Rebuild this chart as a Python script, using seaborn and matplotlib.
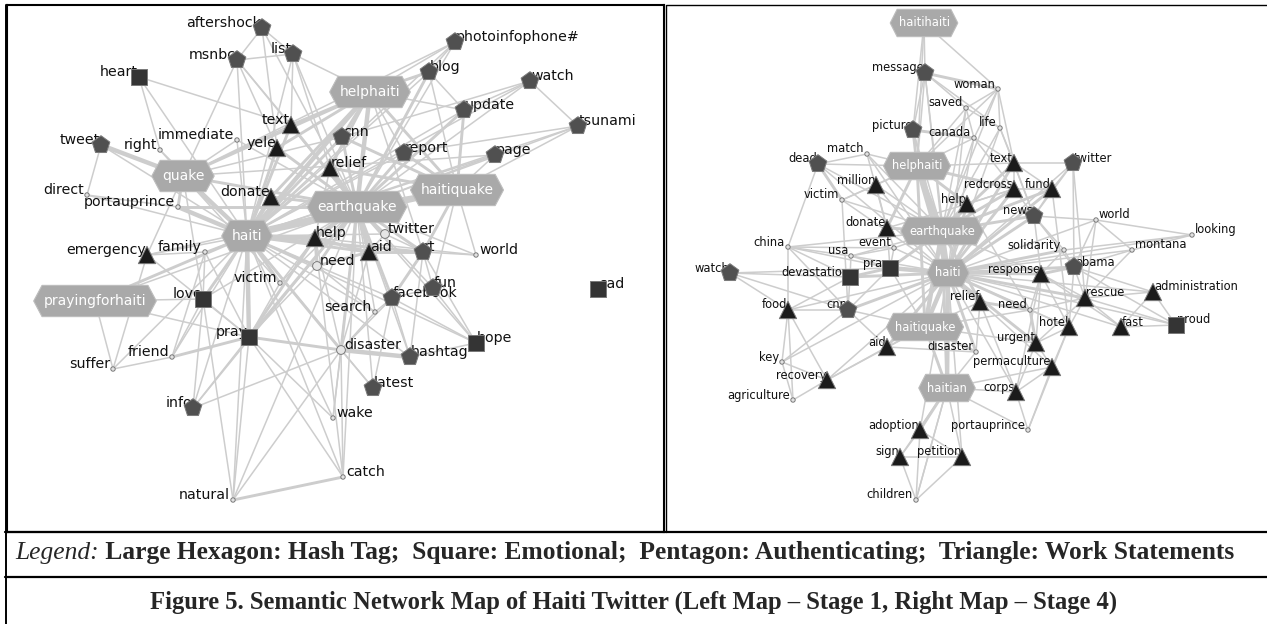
import numpy as np
import pandas as pd
import matplotlib
matplotlib.use("Agg")
import matplotlib.pyplot as plt
from matplotlib.path import Path
from matplotlib.collections import LineCollection
from matplotlib.lines import Line2D
import seaborn as sns

# ------------------------------------------------------------
# data: left map (stage 1)
# ------------------------------------------------------------
L_WORDS = ["quake", "helphaiti", "haitiquake", "earthquake", "haiti", "prayingforhaiti",
           "heart", "love", "pray", "hope", "sad",
           "aftershock", "msnbc", "list", "tweet", "photoinfophone#", "blog", "watch", "update",
           "tsunami", "cnn", "report", "page", "rt", "fun", "facebook", "hashtag", "latest", "info",
           "text", "yele", "relief", "donate", "help", "aid", "emergency",
           "right", "immediate", "direct", "portauprince", "twitter", "need", "world", "family",
           "victim", "friend", "suffer", "search", "disaster", "wake", "catch", "natural"]
L_X = [183, 370, 457, 357, 247, 95,
       139, 203, 249, 476, 598,
       262, 237, 293, 101, 455, 429, 530, 464,
       578, 342, 404, 495, 423, 433, 392, 410, 373, 193,
       291, 277, 330, 271, 315, 369, 147,
       160, 237, 87, 178, 385, 317, 476, 205,
       280, 172, 113, 375, 341, 333, 343, 233]
L_Y = [176, 92, 190, 207, 236, 301,
       77, 299, 337, 343, 289,
       28, 60, 54, 145, 42, 72, 81, 110,
       126, 137, 153, 155, 252, 288, 298, 357, 388, 408,
       125, 148, 168, 197, 238, 252, 255,
       150, 140, 195, 207, 234, 266, 255, 252,
       283, 357, 369, 312, 350, 418, 477, 500]
L_KIND = ["hashtag"] * 6 + ["emotional"] * 5 + ["authenticating"] * 18 + ["work"] * 7 + ["term"] * 16

L_EDGES = [
    ("haiti", "earthquake", 3), ("haiti", "quake", 3), ("haiti", "haitiquake", 3), ("haiti", "helphaiti", 3),
    ("earthquake", "haitiquake", 3), ("earthquake", "helphaiti", 3), ("earthquake", "quake", 2),
    ("helphaiti", "haitiquake", 2), ("quake", "helphaiti", 2), ("haiti", "pray", 3), ("earthquake", "pray", 2),
    ("haiti", "help", 3), ("earthquake", "help", 3), ("haiti", "aid", 2), ("earthquake", "aid", 3),
    ("haiti", "relief", 2), ("earthquake", "relief", 3), ("haiti", "donate", 3), ("earthquake", "donate", 2),
    ("helphaiti", "donate", 2), ("helphaiti", "relief", 2), ("haitiquake", "relief", 2), ("haiti", "need", 2),
    ("earthquake", "need", 2), ("haiti", "victim", 2), ("earthquake", "victim", 1), ("haiti", "prayingforhaiti", 2),
    ("haiti", "portauprince", 3), ("quake", "portauprince", 2), ("earthquake", "portauprince", 2),
    ("tweet", "quake", 3), ("tweet", "haiti", 1), ("tweet", "direct", 1), ("direct", "portauprince", 1),
    ("direct", "haiti", 1), ("haiti", "yele", 2), ("earthquake", "yele", 2), ("helphaiti", "yele", 2),
    ("haiti", "text", 2), ("earthquake", "text", 2), ("helphaiti", "text", 2), ("quake", "text", 1),
    ("haiti", "cnn", 2), ("earthquake", "cnn", 2), ("helphaiti", "cnn", 2), ("haitiquake", "cnn", 2),
    ("quake", "cnn", 1), ("haiti", "report", 1), ("earthquake", "report", 2), ("haitiquake", "report", 2),
    ("helphaiti", "report", 1), ("haiti", "blog", 1), ("earthquake", "blog", 2), ("helphaiti", "blog", 2),
    ("haitiquake", "blog", 1), ("blog", "photoinfophone#", 1), ("helphaiti", "photoinfophone#", 1),
    ("earthquake", "photoinfophone#", 1), ("haiti", "photoinfophone#", 1), ("quake", "photoinfophone#", 1),
    ("update", "earthquake", 2), ("update", "haitiquake", 2), ("update", "haiti", 1), ("update", "helphaiti", 1),
    ("update", "blog", 1), ("watch", "update", 1), ("watch", "tsunami", 1), ("watch", "earthquake", 1),
    ("watch", "haiti", 1), ("watch", "cnn", 1), ("tsunami", "earthquake", 1), ("tsunami", "haitiquake", 1),
    ("tsunami", "haiti", 1), ("tsunami", "report", 1), ("page", "haitiquake", 1), ("page", "earthquake", 1),
    ("page", "haiti", 1), ("page", "quake", 1), ("aftershock", "msnbc", 1), ("aftershock", "list", 1),
    ("aftershock", "yele", 1), ("aftershock", "earthquake", 1), ("msnbc", "list", 1), ("msnbc", "quake", 1),
    ("msnbc", "haiti", 1), ("msnbc", "earthquake", 1), ("msnbc", "text", 1), ("msnbc", "yele", 1),
    ("list", "earthquake", 1), ("list", "haiti", 1), ("list", "relief", 1), ("list", "helphaiti", 1),
    ("list", "text", 1), ("heart", "text", 1), ("heart", "right", 1), ("heart", "haiti", 1),
    ("right", "quake", 1), ("right", "haiti", 1), ("immediate", "haiti", 1), ("immediate", "quake", 1),
    ("immediate", "earthquake", 1), ("emergency", "haiti", 1), ("emergency", "earthquake", 1),
    ("emergency", "family", 1), ("emergency", "pray", 1), ("emergency", "quake", 1), ("family", "haiti", 1),
    ("family", "pray", 1), ("family", "love", 1), ("love", "haiti", 2), ("love", "earthquake", 1),
    ("love", "pray", 1), ("love", "prayingforhaiti", 1), ("love", "quake", 1), ("prayingforhaiti", "pray", 1),
    ("prayingforhaiti", "suffer", 1), ("prayingforhaiti", "earthquake", 1), ("suffer", "friend", 1),
    ("suffer", "emergency", 1), ("suffer", "haiti", 1), ("friend", "pray", 2), ("friend", "love", 1),
    ("friend", "haiti", 1), ("friend", "family", 1), ("info", "haiti", 1), ("info", "pray", 1),
    ("info", "love", 1), ("info", "earthquake", 1), ("info", "disaster", 1), ("pray", "help", 2),
    ("pray", "disaster", 2), ("pray", "need", 1), ("pray", "victim", 1), ("pray", "natural", 1),
    ("pray", "catch", 1), ("natural", "haiti", 1), ("natural", "catch", 2), ("natural", "earthquake", 1),
    ("natural", "love", 1), ("natural", "disaster", 1), ("catch", "disaster", 1), ("catch", "earthquake", 1),
    ("catch", "haiti", 1), ("catch", "help", 1), ("wake", "disaster", 1), ("wake", "earthquake", 1),
    ("wake", "haiti", 1), ("wake", "pray", 1), ("disaster", "hashtag", 3), ("disaster", "earthquake", 2),
    ("disaster", "haiti", 2), ("disaster", "help", 1), ("disaster", "facebook", 1), ("disaster", "latest", 1),
    ("disaster", "search", 1), ("disaster", "aid", 1), ("hashtag", "facebook", 1), ("hashtag", "hope", 1),
    ("hashtag", "haiti", 1), ("hashtag", "earthquake", 1), ("hashtag", "rt", 1), ("latest", "facebook", 1),
    ("latest", "haiti", 1), ("latest", "earthquake", 1), ("hope", "facebook", 1), ("hope", "rt", 1),
    ("hope", "fun", 1), ("hope", "earthquake", 1), ("hope", "haiti", 1), ("facebook", "earthquake", 2),
    ("facebook", "haiti", 1), ("facebook", "rt", 2), ("facebook", "search", 1), ("facebook", "fun", 1),
    ("fun", "rt", 1), ("fun", "earthquake", 1), ("fun", "haitiquake", 1), ("rt", "earthquake", 2),
    ("rt", "haiti", 2), ("rt", "haitiquake", 2), ("rt", "world", 1), ("rt", "helphaiti", 1), ("rt", "aid", 2),
    ("rt", "twitter", 1), ("world", "haitiquake", 1), ("world", "earthquake", 1), ("world", "help", 1),
    ("twitter", "earthquake", 2), ("twitter", "haiti", 1), ("twitter", "aid", 1), ("aid", "help", 2),
    ("aid", "need", 2), ("help", "need", 2), ("help", "relief", 1), ("search", "haiti", 1),
    ("search", "earthquake", 1), ("search", "need", 1), ("victim", "help", 1), ("victim", "quake", 1),
]

# ------------------------------------------------------------
# data: right map (stage 4)
# ------------------------------------------------------------
R_WORDS = ["haitihaiti", "helphaiti", "earthquake", "haiti", "haitiquake", "haitian",
           "pray", "devastation", "proud",
           "message", "picture", "dead", "twitter", "news", "obama", "watch", "cnn",
           "million", "help", "donate", "text", "redcross", "fund", "response", "relief", "rescue",
           "administration", "hotel", "fast", "urgent", "permaculture", "corps", "food", "aid",
           "recovery", "adoption", "sign", "petition",
           "woman", "saved", "canada", "life", "match", "victim", "event", "usa", "china", "world",
           "looking", "montana", "solidarity", "need", "disaster", "key", "agriculture",
           "portauprince", "children"]
R_X = [924, 917, 942, 948, 925, 947,
       890, 850, 1176,
       925, 913, 818, 1073, 1034, 1074, 730, 848,
       876, 967, 887, 1014, 1014, 1052, 1041, 980, 1085,
       1153, 1069, 1121, 1036, 1052, 1016, 788, 887,
       827, 920, 900, 962,
       998, 966, 974, 1000, 867, 842, 894, 851, 788, 1096,
       1192, 1132, 1064, 1030, 976, 782, 793,
       1028, 916]
R_Y = [23, 166, 231, 273, 327, 388,
       268, 277, 325,
       73, 130, 164, 163, 216, 267, 273, 310,
       185, 204, 228, 163, 189, 189, 274, 302, 298,
       292, 327, 327, 343, 367, 392, 310, 347,
       380, 430, 457, 457,
       89, 108, 138, 128, 154, 200, 248, 256, 247, 220,
       235, 250, 250, 310, 352, 362, 400,
       430, 500]
R_KIND = ["hashtag"] * 6 + ["emotional"] * 3 + ["authenticating"] * 8 + ["work"] * 21 + ["term"] * 19

R_EDGES = [
    ("haitihaiti", "message", 1), ("haitihaiti", "woman", 1), ("haitihaiti", "picture", 1),
    ("haitihaiti", "helphaiti", 1), ("message", "woman", 2), ("message", "picture", 1), ("message", "saved", 1),
    ("message", "helphaiti", 1), ("message", "earthquake", 1), ("message", "haiti", 1), ("message", "life", 1),
    ("woman", "life", 1), ("woman", "text", 1), ("woman", "canada", 1), ("woman", "helphaiti", 1),
    ("woman", "earthquake", 1), ("woman", "saved", 1), ("saved", "life", 1), ("saved", "canada", 1),
    ("saved", "helphaiti", 1), ("saved", "earthquake", 1), ("saved", "haiti", 1), ("picture", "canada", 2),
    ("picture", "helphaiti", 2), ("picture", "haiti", 1), ("picture", "earthquake", 1), ("canada", "helphaiti", 1),
    ("canada", "earthquake", 1), ("canada", "haiti", 1), ("canada", "text", 1), ("canada", "redcross", 1),
    ("life", "text", 1), ("life", "earthquake", 1), ("life", "haiti", 1), ("life", "news", 1),
    ("match", "dead", 1), ("match", "helphaiti", 1), ("match", "haiti", 1), ("match", "earthquake", 1),
    ("match", "donate", 1), ("dead", "victim", 2), ("dead", "helphaiti", 1), ("dead", "earthquake", 1),
    ("dead", "haiti", 1), ("dead", "china", 1), ("million", "helphaiti", 1), ("million", "earthquake", 1),
    ("million", "haiti", 1), ("million", "victim", 1), ("million", "donate", 1), ("victim", "earthquake", 1),
    ("victim", "haiti", 1), ("victim", "helphaiti", 1), ("victim", "cnn", 1), ("helphaiti", "earthquake", 3),
    ("helphaiti", "haiti", 3), ("helphaiti", "help", 2), ("helphaiti", "text", 1), ("helphaiti", "redcross", 2),
    ("helphaiti", "donate", 2), ("helphaiti", "haitiquake", 2), ("earthquake", "haiti", 3),
    ("earthquake", "haitiquake", 3), ("earthquake", "help", 3), ("earthquake", "donate", 2),
    ("earthquake", "redcross", 2), ("earthquake", "text", 2), ("earthquake", "fund", 2), ("earthquake", "news", 2),
    ("earthquake", "pray", 2), ("earthquake", "relief", 2), ("earthquake", "response", 1),
    ("earthquake", "event", 1), ("earthquake", "usa", 1), ("earthquake", "china", 1), ("earthquake", "haitian", 2),
    ("haiti", "haitiquake", 3), ("haiti", "haitian", 3), ("haiti", "help", 2), ("haiti", "redcross", 2),
    ("haiti", "fund", 2), ("haiti", "news", 2), ("haiti", "text", 2), ("haiti", "relief", 3), ("haiti", "need", 2),
    ("haiti", "response", 2), ("haiti", "solidarity", 2), ("haiti", "pray", 3), ("haiti", "devastation", 2),
    ("haiti", "obama", 2), ("haiti", "rescue", 2), ("haiti", "hotel", 1), ("haiti", "urgent", 2),
    ("haiti", "permaculture", 1), ("haiti", "corps", 1), ("haiti", "disaster", 2), ("haiti", "aid", 2),
    ("haiti", "cnn", 2), ("haiti", "event", 1), ("haiti", "usa", 1), ("haiti", "world", 1), ("haiti", "montana", 1),
    ("haiti", "looking", 1), ("haiti", "administration", 1), ("haiti", "fast", 1), ("haiti", "proud", 1),
    ("haiti", "twitter", 1), ("haiti", "food", 1), ("haiti", "recovery", 1), ("haiti", "adoption", 1),
    ("haiti", "petition", 1), ("haitiquake", "aid", 1), ("haitiquake", "recovery", 1), ("haitiquake", "cnn", 1),
    ("haitiquake", "pray", 1), ("haitiquake", "disaster", 2), ("haitiquake", "haitian", 2),
    ("haitiquake", "relief", 1), ("haitiquake", "need", 1), ("haitiquake", "urgent", 1), ("haitian", "adoption", 2),
    ("haitian", "sign", 1), ("haitian", "petition", 1), ("haitian", "children", 1), ("haitian", "corps", 1),
    ("haitian", "portauprince", 1), ("haitian", "disaster", 1), ("haitian", "permaculture", 1),
    ("text", "twitter", 1), ("text", "redcross", 1), ("text", "fund", 1), ("text", "news", 1),
    ("redcross", "fund", 1), ("redcross", "news", 1), ("redcross", "help", 1), ("fund", "twitter", 1),
    ("fund", "news", 1), ("fund", "hotel", 1), ("twitter", "news", 1), ("twitter", "rescue", 1),
    ("twitter", "obama", 1), ("news", "world", 1), ("news", "solidarity", 1), ("news", "obama", 1),
    ("news", "response", 1), ("world", "looking", 1), ("world", "montana", 1), ("world", "obama", 1),
    ("world", "rescue", 1), ("looking", "montana", 1), ("looking", "solidarity", 1), ("montana", "obama", 1),
    ("montana", "rescue", 1), ("obama", "rescue", 1), ("obama", "response", 2), ("obama", "administration", 1),
    ("obama", "proud", 1), ("obama", "solidarity", 1), ("obama", "hotel", 1), ("administration", "proud", 1),
    ("administration", "fast", 1), ("administration", "rescue", 1), ("proud", "fast", 1), ("proud", "rescue", 1),
    ("fast", "rescue", 1), ("fast", "response", 1), ("rescue", "hotel", 1), ("rescue", "response", 1),
    ("rescue", "need", 1), ("rescue", "urgent", 1), ("response", "need", 1), ("response", "urgent", 1),
    ("response", "hotel", 1), ("response", "solidarity", 1), ("response", "corps", 1), ("hotel", "urgent", 1),
    ("hotel", "permaculture", 1), ("hotel", "portauprince", 1), ("hotel", "need", 1), ("urgent", "permaculture", 1),
    ("urgent", "corps", 1), ("urgent", "need", 2), ("permaculture", "corps", 1), ("permaculture", "portauprince", 1),
    ("corps", "portauprince", 1), ("corps", "relief", 1), ("relief", "need", 2), ("relief", "disaster", 1),
    ("children", "sign", 1), ("children", "adoption", 1), ("children", "petition", 1), ("children", "haitian", 1),
    ("sign", "adoption", 1), ("sign", "petition", 1), ("adoption", "petition", 1), ("key", "food", 1),
    ("key", "recovery", 1), ("key", "agriculture", 1), ("key", "cnn", 1), ("key", "haiti", 1),
    ("agriculture", "recovery", 1), ("agriculture", "food", 1), ("recovery", "aid", 1), ("recovery", "food", 1),
    ("food", "cnn", 1), ("food", "devastation", 1), ("food", "china", 1), ("food", "watch", 1),
    ("watch", "devastation", 1), ("watch", "pray", 1), ("watch", "cnn", 1), ("china", "devastation", 1),
    ("china", "usa", 1), ("china", "event", 1), ("china", "pray", 1), ("china", "cnn", 1),
    ("usa", "devastation", 1), ("usa", "pray", 1), ("usa", "event", 1), ("event", "pray", 1),
    ("event", "donate", 1), ("devastation", "pray", 2), ("devastation", "cnn", 1), ("pray", "cnn", 1),
    ("pray", "donate", 1), ("cnn", "aid", 1), ("aid", "disaster", 1), ("donate", "help", 1),
    ("help", "redcross", 1), ("help", "need", 1),
]

LEGEND_ITALIC = "Legend:"
LEGEND_TEXT = "Large Hexagon: Hash Tag;  Square: Emotional;  Pentagon: Authenticating;  Triangle: Work Statements"
CAPTION = "Figure 5. Semantic Network Map of Haiti Twitter (Left Map \u2013 Stage 1, Right Map \u2013 Stage 4)"

# ------------------------------------------------------------
# style
# ------------------------------------------------------------
W, H = 1267, 624
EDGE_GRAY = "#cdcdcd"
HEX_FILL = "#a9a9a9"
MARKERS = {"emotional": "s", "authenticating": "p", "work": "^", "term": "o", "ring": "o"}
COLORS = {"emotional": "#343434", "authenticating": "#505050", "work": "#1b1b1b",
          "term": "#e2e2e2", "ring": "#e6e6e6"}
SIZES = {"emotional": 125, "authenticating": 180, "work": 155, "term": 10, "ring": 40}
RINGS = {"left": {"twitter", "need", "disaster"}, "right": set()}
RIGHT_LABELS = {
    "left": {"photoinfophone#", "blog", "watch", "update", "tsunami", "cnn", "report", "page", "relief",
             "help", "aid", "twitter", "need", "rt", "world", "fun", "facebook", "hope", "hashtag",
             "latest", "sad", "disaster", "catch", "wake"},
    "right": {"twitter", "obama", "rescue", "administration", "fast", "proud", "world", "looking", "montana"},
}


def hex_box(x0, y0, width, height, mutation_size):
    # elongated hexagon around a text label
    py = 0.62 * mutation_size
    px = 0.12 * mutation_size
    tip = 0.6 * mutation_size
    xa, xb = x0 - px, x0 + width + px
    ya, yb = y0 - py, y0 + height + py
    ym = (ya + yb) / 2
    verts = [(xa - tip, ym), (xa, ya), (xb, ya), (xb + tip, ym), (xb, yb), (xa, yb), (xa - tip, ym)]
    codes = [Path.MOVETO] + [Path.LINETO] * 5 + [Path.CLOSEPOLY]
    return Path(verts, codes)


def draw_map(ax, words, xs, ys, kinds, edges, side, label_fs, hex_fs):
    nodes = pd.DataFrame({"word": words, "x": xs, "y": ys, "kind": kinds})
    pos = nodes.set_index("word")[["x", "y"]]

    segs = [[tuple(pos.loc[a]), tuple(pos.loc[b])] for a, b, _ in edges]
    widths = [{1: 1.1, 2: 2.1, 3: 3.2}[w] for _, _, w in edges]
    ax.add_collection(LineCollection(segs, colors=EDGE_GRAY, linewidths=widths, zorder=1,
                                     capstyle="round"))

    small = nodes[nodes["kind"] != "hashtag"].copy()
    small["mark"] = [("ring" if w in RINGS[side] else k) for w, k in zip(small["word"], small["kind"])]
    sns.scatterplot(data=small, x="x", y="y", hue="mark", style="mark", size="mark",
                    palette=COLORS, markers=MARKERS, sizes=SIZES, legend=False,
                    edgecolor="#7a7a7a", linewidth=0.7, zorder=3, ax=ax)

    for _, r in small.iterrows():
        off = 3 if r["kind"] == "term" else 1
        if r["word"] in RIGHT_LABELS[side]:
            ax.text(r["x"] + off, r["y"] - 5, r["word"], ha="left", va="center",
                    fontsize=label_fs, color="#111111", zorder=2)
        else:
            ax.text(r["x"] - off, r["y"] - 5, r["word"], ha="right", va="center",
                    fontsize=label_fs, color="#111111", zorder=2)

    for _, r in nodes[nodes["kind"] == "hashtag"].iterrows():
        ax.text(r["x"], r["y"], r["word"], ha="center", va="center", fontsize=hex_fs,
                color="white", zorder=5,
                bbox=dict(boxstyle=hex_box, fc=HEX_FILL, ec="#bdbdbd", lw=0.8))


sns.set_theme(style="white")
plt.rcParams["font.family"] = ["DejaVu Sans"]

fig = plt.figure(figsize=(W / 100, H / 100), dpi=100)
fig.patch.set_facecolor("white")


def fx(px):
    return px / W


def fy(py):
    return 1 - py / H


ax_l = fig.add_axes([fx(7), fy(532), fx(664 - 7), (532 - 5) / H])
ax_r = fig.add_axes([fx(667), fy(532), fx(1267 - 667), (532 - 5) / H])

draw_map(ax_l, L_WORDS, L_X, L_Y, L_KIND, L_EDGES, "left", 10.2, 10.0)
draw_map(ax_r, R_WORDS, R_X, R_Y, R_KIND, R_EDGES, "right", 8.3, 8.3)

ax_l.set_xlim(7, 664)
ax_l.set_ylim(532, 5)
ax_r.set_xlim(667, 1267)
ax_r.set_ylim(532, 5)
for ax in (ax_l, ax_r):
    ax.set_xticks([])
    ax.set_yticks([])
    ax.set_xlabel("")
    ax.set_ylabel("")
for s in ax_l.spines.values():
    s.set_visible(True)
    s.set_color("black")
    s.set_linewidth(1.5)
for name, s in ax_r.spines.items():
    s.set_visible(name == "top")
    s.set_color("black")
    s.set_linewidth(1.0)

# table rules around the figure
rules = [((5, 532), (1267, 532), 1.6), ((5, 577), (1267, 577), 1.6), ((6, 5), (6, 624), 1.4),
         ((666, 5), (666, 532), 1.0)]
for (x0, y0), (x1, y1), lw in rules:
    fig.add_artist(Line2D([fx(x0), fx(x1)], [fy(y0), fy(y1)], transform=fig.transFigure,
                          color="black", lw=lw))

serif = ["Liberation Serif", "DejaVu Serif"]
t1 = fig.text(fx(15), fy(553), LEGEND_ITALIC, ha="left", va="center", fontsize=18.4,
              family=serif, style="italic")
ax_l.annotate(" " + LEGEND_TEXT, xy=(1, 0.5), xycoords=t1, ha="left", va="center",
              fontsize=18.4, family=serif, weight="bold", annotation_clip=False)
fig.text(0.5, fy(602), CAPTION, ha="center", va="center", fontsize=17.7, family=serif,
         weight="bold")

fig.savefig("out.png", dpi=100, facecolor="white")
